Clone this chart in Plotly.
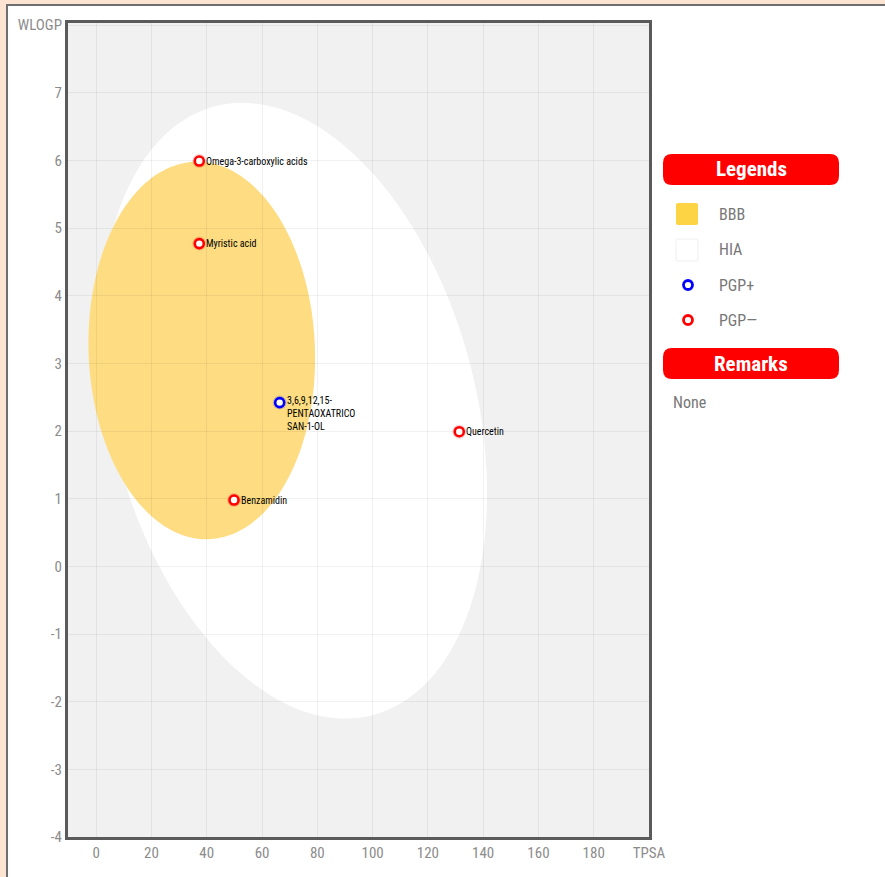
import numpy as np
import plotly.graph_objects as go

# ---------------- data ----------------
compound_names = ["Omega-3-carboxylic acids", "Myristic acid",
                  "3,6,9,12,15-<br>PENTAOXATRICO<br>SAN-1-OL", "Quercetin", "Benzamidin"]
tpsa_values = [37.30, 37.30, 66.38, 131.36, 49.87]
wlogp_values = [5.99, 4.77, 2.42, 1.99, 0.98]
pgp_status = ["-", "-", "+", "-", "-"]

# egg regions (centre, half extents, tilt correlation) in data units
region_names = ["HIA", "BBB"]
region_center_tpsa = [71.5, 38.2]
region_center_wlogp = [2.30, 3.19]
region_half_tpsa = [69.9, 41.0]
region_half_wlogp = [4.55, 2.79]
region_corr = [-0.267, -0.04]

x_tick_values = [0, 20, 40, 60, 80, 100, 120, 140, 160, 180, 200]
x_tick_labels = ["0", "20", "40", "60", "80", "100", "120", "140", "160", "180", "TPSA"]
y_tick_values = [-4, -3, -2, -1, 0, 1, 2, 3, 4, 5, 6, 7, 8]
y_tick_labels = ["-4", "-3", "-2", "-1", "0", "1", "2", "3", "4", "5", "6", "7", "WLOGP"]

legend_labels = ["BBB", "HIA", "PGP+", "PGP\u2014"]
remarks_text = "None"

# ---------------- styling ----------------
W, H = 885, 877
ML, MR, MT, MB = 68, 236, 23, 40
PW, PH = W - ML - MR, H - MT - MB
NARROW = "Liberation Sans Narrow, Roboto Condensed, DejaVu Sans Condensed, Arial Narrow, Liberation Sans, sans-serif"
PEACH = "#FDE4D2"
YOLK = "#FDDC82"
RED = "#FF0000"
BLUE = "#0000FF"


def px(xp):
    return (xp - ML) / PW


def py(yp):
    return (H - MB - yp) / PH


fig = go.Figure()

# egg regions
region_fill = {"HIA": "#FFFFFF", "BBB": YOLK}
shapes = []
t = np.linspace(0, 2 * np.pi, 181)
for name, cx, cy, hx, hy, r in zip(region_names, region_center_tpsa, region_center_wlogp,
                                   region_half_tpsa, region_half_wlogp, region_corr):
    xs = cx + hx * np.cos(t)
    ys = cy + hy * (r * np.cos(t) + np.sqrt(1 - r * r) * np.sin(t))
    path = "M " + " L ".join(f"{a:.3f},{b:.3f}" for a, b in zip(xs, ys)) + " Z"
    shapes.append(dict(type="path", path=path, xref="x", yref="y", layer="below",
                       fillcolor=region_fill[name], line=dict(width=0)))

# points
colors = [BLUE if s == "+" else RED for s in pgp_status]
halo = ["rgba(0,0,255,0.18)" if s == "+" else "rgba(255,0,0,0.18)" for s in pgp_status]
fig.add_trace(go.Scatter(
    x=tpsa_values, y=wlogp_values, mode="markers",
    marker=dict(size=14, color=halo, line=dict(width=0)),
    hoverinfo="skip", showlegend=False))
fig.add_trace(go.Scatter(
    x=tpsa_values, y=wlogp_values, mode="markers",
    marker=dict(size=9, color="white", line=dict(width=2.6, color=colors)),
    text=compound_names, hoverinfo="text", showlegend=False))

annotations = []
for name, xv, yv in zip(compound_names, tpsa_values, wlogp_values):
    multi = "<br>" in name
    annotations.append(dict(
        x=xv, y=yv, xref="x", yref="y", text=name, showarrow=False,
        xanchor="left", yanchor="top" if multi else "middle", yshift=10 if multi else 0,
        xshift=5, align="left",
        font=dict(family=NARROW, size=10, color="#000000")))

# page frame: peach strips + grey border
shapes += [
    dict(type="rect", xref="paper", yref="paper", x0=px(-5), x1=px(6), y0=py(H + 5), y1=py(-5),
         fillcolor=PEACH, line=dict(width=0), layer="above"),
    dict(type="rect", xref="paper", yref="paper", x0=px(-5), x1=px(W + 5), y0=py(4), y1=py(-5),
         fillcolor=PEACH, line=dict(width=0), layer="above"),
    dict(type="line", xref="paper", yref="paper", x0=px(7), x1=px(7), y0=py(4), y1=py(H + 5),
         line=dict(color="#6E6E6E", width=2), layer="above"),
    dict(type="line", xref="paper", yref="paper", x0=px(6), x1=px(W + 5), y0=py(5), y1=py(5),
         line=dict(color="#6E6E6E", width=2), layer="above"),
]


def rounded_rect(x0, y0, x1, y1, r):
    # pixel coordinates -> paper path with rounded corners
    X0, X1 = px(x0), px(x1)
    Y0, Y1 = py(y0), py(y1)  # Y0 top, Y1 bottom
    rx, ry = r / PW, r / PH
    return (f"M {X0+rx},{Y0} L {X1-rx},{Y0} Q {X1},{Y0} {X1},{Y0-ry} "
            f"L {X1},{Y1+ry} Q {X1},{Y1} {X1-rx},{Y1} L {X0+rx},{Y1} "
            f"Q {X0},{Y1} {X0},{Y1+ry} L {X0},{Y0-ry} Q {X0},{Y0} {X0+rx},{Y0} Z")


# legend panel
for title, y0, y1 in [("Legends", 154, 185), ("Remarks", 348, 379)]:
    shapes.append(dict(type="path", xref="paper", yref="paper", path=rounded_rect(663, y0, 839, y1, 9),
                       fillcolor=RED, line=dict(width=0), layer="above"))
    annotations.append(dict(x=px(751), y=py((y0 + y1) / 2), xref="paper", yref="paper", text=f"<b>{title}</b>",
                            showarrow=False, xanchor="center", yanchor="middle",
                            font=dict(family=NARROW, size=21, color="white")))

item_y = [214, 250, 285, 320]
shapes.append(dict(type="path", xref="paper", yref="paper", path=rounded_rect(676, 203, 698, 225, 2),
                   fillcolor="#FDD444", line=dict(width=0), layer="above"))
shapes.append(dict(type="path", xref="paper", yref="paper", path=rounded_rect(676, 239, 698, 261, 2),
                   fillcolor="white", line=dict(width=1, color="#EEEEEE"), layer="above"))
for yy, col in [(item_y[2], BLUE), (item_y[3], RED)]:
    shapes.append(dict(type="circle", xref="paper", yref="paper", xsizemode="pixel", ysizemode="pixel",
                       xanchor=px(688), yanchor=py(yy), x0=-4.5, x1=4.5, y0=-4.5, y1=4.5,
                       fillcolor="white", line=dict(width=2.8, color=col), layer="above"))
for lab, yy in zip(legend_labels, item_y):
    annotations.append(dict(x=px(717), y=py(yy), xref="paper", yref="paper", text=lab, showarrow=False,
                            xanchor="left", yanchor="middle",
                            font=dict(family=NARROW, size=16, color="#777777")))
annotations.append(dict(x=px(671), y=py(402), xref="paper", yref="paper", text=remarks_text, showarrow=False,
                        xanchor="left", yanchor="middle", font=dict(family=NARROW, size=16, color="#777777")))

axis_common = dict(showline=True, mirror=True, linecolor="#5A5A5A", linewidth=3,
                   showgrid=True, gridcolor="rgba(0,0,0,0.055)", gridwidth=1.2,
                   zeroline=False, ticks="", tickfont=dict(family=NARROW, size=15, color="#8C8C8C"))

fig.update_layout(
    width=W, height=H,
    margin=dict(l=ML, r=MR, t=MT, b=MB),
    paper_bgcolor="white", plot_bgcolor="#F1F1F1",
    shapes=shapes, annotations=annotations,
    xaxis=dict(range=[-10.2, 200], tickvals=x_tick_values, ticktext=x_tick_labels, **axis_common),
    yaxis=dict(range=[-4, 8.03], tickvals=y_tick_values, ticktext=y_tick_labels, **axis_common),
    showlegend=False,
)

fig.write_html("out.html", config={"displayModeBar": False},
               post_script="document.body.style.margin='0';document.body.style.overflow='hidden';")
